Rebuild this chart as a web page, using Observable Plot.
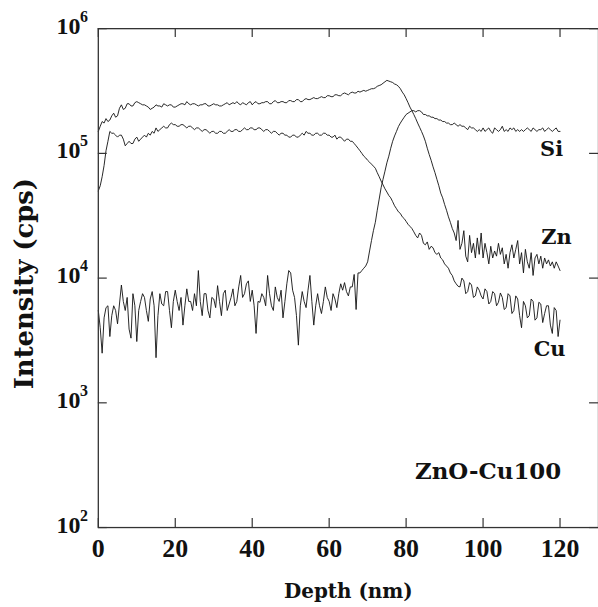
<!DOCTYPE html>
<html><head><meta charset="utf-8">
<script src="https://cdn.jsdelivr.net/npm/d3@7"></script>
<script src="https://cdn.jsdelivr.net/npm/@observablehq/plot@0.6"></script>
<style>html,body{margin:0;padding:0;overflow:hidden;background:#fff;width:598px;height:607px}</style>
</head><body><div id="chart"></div>
<script>
// Depth sampling (nm), 0.5 nm steps from 0 to 120
const depth = d3.range(0, 120.5, 0.5);

// Intensity (cps)
const zn = [
1.5e5,1.65e5,1.8e5,1.75e5,1.9e5,1.8e5,1.85e5,2.0e5,2.1e5,1.95e5,
2.0e5,2.3e5,2.45e5,2.25e5,2.3e5,2.5e5,2.5e5,2.4e5,2.4e5,2.55e5,
2.6e5,2.55e5,2.5e5,2.45e5,2.45e5,2.4e5,2.35e5,2.25e5,2.3e5,2.35e5,
2.45e5,2.4e5,2.4e5,2.35e5,2.5e5,2.45e5,2.4e5,2.45e5,2.45e5,2.35e5,
2.35e5,2.4e5,2.45e5,2.5e5,2.5e5,2.45e5,2.6e5,2.5e5,2.45e5,2.5e5,
2.5e5,2.45e5,2.4e5,2.45e5,2.45e5,2.5e5,2.5e5,2.4e5,2.4e5,2.45e5,
2.5e5,2.45e5,2.45e5,2.4e5,2.4e5,2.45e5,2.5e5,2.55e5,2.45e5,2.5e5,
2.55e5,2.5e5,2.6e5,2.5e5,2.45e5,2.55e5,2.5e5,2.45e5,2.55e5,2.6e5,
2.45e5,2.55e5,2.6e5,2.5e5,2.5e5,2.55e5,2.55e5,2.6e5,2.6e5,2.5e5,
2.5e5,2.6e5,2.65e5,2.55e5,2.55e5,2.6e5,2.6e5,2.55e5,2.55e5,2.65e5,
2.65e5,2.6e5,2.6e5,2.7e5,2.7e5,2.6e5,2.6e5,2.7e5,2.75e5,2.7e5,
2.7e5,2.75e5,2.8e5,2.75e5,2.75e5,2.8e5,2.85e5,2.8e5,2.8e5,2.9e5,
2.9e5,2.85e5,2.85e5,2.95e5,2.95e5,2.9e5,2.9e5,3.0e5,3.05e5,3.0e5,
2.95e5,3.05e5,3.1e5,3.05e5,3.05e5,3.15e5,3.1e5,3.15e5,3.2e5,3.15e5,
3.2e5,3.25e5,3.3e5,3.3e5,3.35e5,3.45e5,3.5e5,3.55e5,3.65e5,3.75e5,
3.85e5,3.8e5,3.75e5,3.7e5,3.6e5,3.55e5,3.45e5,3.3e5,3.1e5,2.95e5,
2.75e5,2.55e5,2.35e5,2.2e5,2.05e5,1.9e5,1.75e5,1.62e5,1.5e5,1.38e5,
1.25e5,1.1e5,9.8e4,8.8e4,7.8e4,7.0e4,6.2e4,5.5e4,4.8e4,4.4e4,
3.9e4,3.5e4,3.1e4,2.8e4,2.5e4,2.3e4,2.0e4,2.9e4,1.7e4,1.9e4,
2.4e4,1.5e4,1.35e4,2.2e4,1.6e4,1.9e4,1.45e4,2.1e4,1.55e4,2.3e4,
1.45e4,1.9e4,1.6e4,1.3e4,1.8e4,1.45e4,1.65e4,1.5e4,1.9e4,1.55e4,
1.75e4,1.3e4,1.55e4,1.2e4,1.6e4,1.85e4,1.45e4,1.7e4,2.0e4,1.3e4,
1.6e4,1.1e4,1.7e4,1.35e4,1.2e4,1.6e4,1.05e4,1.45e4,1.55e4,1.3e4,
1.5e4,1.2e4,1.45e4,1.3e4,1.4e4,1.25e4,1.35e4,1.2e4,1.35e4,1.25e4,
1.15e4];

const cu = [
5.0e4,5.5e4,6.5e4,8.0e4,1.05e5,1.25e5,1.5e5,1.45e5,1.45e5,1.4e5,
1.35e5,1.4e5,1.4e5,1.3e5,1.15e5,1.2e5,1.25e5,1.2e5,1.2e5,1.3e5,
1.35e5,1.25e5,1.3e5,1.35e5,1.4e5,1.35e5,1.45e5,1.4e5,1.5e5,1.45e5,
1.6e5,1.5e5,1.55e5,1.6e5,1.65e5,1.6e5,1.6e5,1.7e5,1.75e5,1.7e5,
1.7e5,1.65e5,1.65e5,1.7e5,1.7e5,1.65e5,1.6e5,1.65e5,1.65e5,1.6e5,
1.55e5,1.6e5,1.6e5,1.55e5,1.5e5,1.55e5,1.55e5,1.5e5,1.45e5,1.5e5,
1.5e5,1.45e5,1.45e5,1.5e5,1.5e5,1.45e5,1.45e5,1.5e5,1.55e5,1.5e5,
1.5e5,1.55e5,1.55e5,1.5e5,1.5e5,1.55e5,1.6e5,1.55e5,1.55e5,1.6e5,
1.6e5,1.55e5,1.55e5,1.6e5,1.6e5,1.55e5,1.5e5,1.55e5,1.55e5,1.5e5,
1.45e5,1.5e5,1.5e5,1.45e5,1.4e5,1.45e5,1.45e5,1.4e5,1.4e5,1.35e5,
1.35e5,1.4e5,1.4e5,1.35e5,1.35e5,1.4e5,1.45e5,1.4e5,1.5e5,1.45e5,
1.45e5,1.4e5,1.4e5,1.45e5,1.45e5,1.4e5,1.4e5,1.45e5,1.45e5,1.4e5,
1.4e5,1.35e5,1.35e5,1.4e5,1.3e5,1.35e5,1.35e5,1.3e5,1.25e5,1.3e5,
1.3e5,1.25e5,1.25e5,1.2e5,1.15e5,1.1e5,1.05e5,1.0e5,9.5e4,9.2e4,
8.8e4,8.5e4,8.2e4,7.9e4,7.6e4,7.0e4,6.5e4,6.0e4,5.6e4,5.2e4,
4.9e4,4.6e4,4.4e4,4.1e4,3.8e4,3.6e4,3.4e4,3.3e4,3.1e4,3.0e4,
2.85e4,2.7e4,2.6e4,2.5e4,2.35e4,2.2e4,2.1e4,2.3e4,2.2e4,1.9e4,
1.85e4,1.95e4,1.7e4,1.8e4,1.75e4,1.6e4,1.55e4,1.6e4,1.45e4,1.4e4,
1.3e4,1.25e4,1.2e4,1.1e4,1.05e4,9.5e3,9.0e3,8.6e3,8.5e3,1.0e4,
9.5e3,7.5e3,7.8e3,9.2e3,8.8e3,7.0e3,7.2e3,8.5e3,8.0e3,7.2e3,
6.8e3,8.2e3,7.8e3,6.2e3,6.5e3,7.8e3,7.5e3,6.0e3,6.4e3,7.6e3,
7.0e3,5.6e3,5.8e3,7.5e3,7.2e3,5.2e3,5.5e3,7.2e3,6.8e3,5.0e3,
4.0e3,6.5e3,6.0e3,4.8e3,5.0e3,6.8e3,6.5e3,4.6e3,4.8e3,6.4e3,
6.2e3,4.4e3,5.2e3,6.0e3,6.0e3,4.2e3,3.6e3,5.8e3,5.5e3,3.4e3,
4.6e3];

const si = [
5.5e3,4.0e3,2.5e3,4.8e3,5.8e3,6.0e3,3.4e3,5.0e3,6.0e3,5.5e3,
4.3e3,6.2e3,8.8e3,6.5e3,5.5e3,7.0e3,3.9e3,3.3e3,7.5e3,6.0e3,
3.1e3,5.5e3,6.5e3,7.5e3,7.0e3,5.5e3,4.5e3,6.8e3,7.8e3,6.0e3,
2.3e3,5.0e3,7.5e3,6.2e3,6.0e3,7.8e3,7.8e3,5.5e3,4.0e3,6.5e3,
8.0e3,6.5e3,5.5e3,7.0e3,4.2e3,6.0e3,8.2e3,6.5e3,6.5e3,5.5e3,
7.5e3,6.0e3,1.15e4,6.5e3,5.0e3,7.5e3,7.5e3,5.5e3,4.8e3,7.0e3,
6.8e3,5.8e3,8.7e3,6.5e3,5.0e3,7.5e3,8.0e3,5.5e3,6.2e3,7.0e3,
8.2e3,6.0e3,6.5e3,8.5e3,1.05e4,7.0e3,7.5e3,9.0e3,9.5e3,6.5e3,
8.0e3,6.0e3,3.6e3,6.5e3,6.4e3,7.5e3,7.0e3,6.0e3,1.05e4,7.5e3,
6.0e3,5.5e3,8.5e3,7.0e3,6.5e3,8.0e3,4.8e3,6.5e3,9.0e3,1.15e4,
1.1e4,8.0e3,7.0e3,5.0e3,2.9e3,6.0e3,7.8e3,6.5e3,5.8e3,8.0e3,
1.05e4,6.5e3,4.2e3,6.0e3,7.5e3,6.0e3,5.2e3,6.5e3,8.5e3,7.0e3,
6.5e3,5.5e3,7.5e3,6.8e3,5.8e3,7.5e3,9.0e3,8.0e3,9.2e3,7.8e3,
7.2e3,8.5e3,8.5e3,1.07e4,5.6e3,1.1e4,1.1e4,1.15e4,1.2e4,1.25e4,
1.35e4,1.65e4,2.0e4,2.4e4,2.8e4,3.5e4,4.3e4,5.3e4,6.2e4,7.2e4,
8.4e4,9.5e4,1.1e5,1.25e5,1.38e5,1.5e5,1.64e5,1.75e5,1.85e5,1.95e5,
2.05e5,2.1e5,2.15e5,2.2e5,2.2e5,2.15e5,2.2e5,2.2e5,2.15e5,2.05e5,
2.05e5,2.0e5,2.0e5,1.95e5,1.95e5,1.9e5,1.9e5,1.85e5,1.85e5,1.8e5,
1.8e5,1.75e5,1.75e5,1.7e5,1.7e5,1.75e5,1.7e5,1.65e5,1.7e5,1.65e5,
1.65e5,1.6e5,1.55e5,1.65e5,1.6e5,1.6e5,1.55e5,1.5e5,1.55e5,1.5e5,
1.6e5,1.5e5,1.55e5,1.6e5,1.5e5,1.45e5,1.6e5,1.55e5,1.5e5,1.55e5,
1.65e5,1.5e5,1.55e5,1.5e5,1.6e5,1.55e5,1.6e5,1.5e5,1.55e5,1.5e5,
1.55e5,1.5e5,1.55e5,1.6e5,1.55e5,1.5e5,1.6e5,1.55e5,1.5e5,1.55e5,
1.55e5,1.6e5,1.5e5,1.55e5,1.6e5,1.55e5,1.5e5,1.55e5,1.6e5,1.5e5,
1.5e5];

const xTicks = [0, 20, 40, 60, 80, 100, 120];
const yTicks = [1e2, 1e3, 1e4, 1e5, 1e6];
const yExponents = ["2", "3", "4", "5", "6"];

const labels = [
  {text: "Si", x: 117.8, y: 1.07e5},
  {text: "Zn", x: 119.1, y: 2.14e4},
  {text: "Cu", x: 117.3, y: 2.67e3}
];
const sampleLabel = [{text: "ZnO-Cu100", x: 101.3, y: 281}];

const rows = [
  ...depth.map((d, i) => ({depth: d, value: zn[i], el: "Zn"})),
  ...depth.map((d, i) => ({depth: d, value: cu[i], el: "Cu"})),
  ...depth.map((d, i) => ({depth: d, value: si[i], el: "Si"}))
];

const W = 601, H = 607, mL = 98.3, mR = 0, mT = 28.3, mB = 77.3;
const innerW = W - mL - mR, innerH = H - mT - mB, tk = 9;
const serifNum = "'Liberation Serif', 'Times New Roman', serif";
const serifTxt = "'DejaVu Serif', serif";

const chart = Plot.plot({
  width: W, height: H,
  marginLeft: mL, marginRight: mR, marginTop: mT, marginBottom: mB,
  style: {background: "white", overflow: "visible"},
  x: {domain: [0, 130], axis: null},
  y: {type: "log", domain: [1e2, 1e6], axis: null},
  marks: [
    Plot.line(rows, {x: "depth", y: "value", z: "el", stroke: "#111", strokeWidth: 0.9}),
    Plot.frame({stroke: "#333", strokeWidth: 1.3}),
    Plot.tickX(xTicks, {x: d => d, insetTop: innerH - tk, stroke: "#333", strokeWidth: 1.2}),
    Plot.tickX(xTicks, {x: d => d, insetBottom: innerH - tk, stroke: "#333", strokeWidth: 1.2}),
    Plot.tickY(yTicks, {y: d => d, insetRight: innerW - tk, stroke: "#333", strokeWidth: 1.2}),
    Plot.tickY(yTicks, {y: d => d, insetLeft: innerW - tk, stroke: "#333", strokeWidth: 1.2}),
    // x tick labels
    Plot.text(xTicks, {x: d => d, text: d => String(d), frameAnchor: "bottom", lineAnchor: "bottom",
      dy: 29.6, fontFamily: serifNum, fontWeight: "bold", fontSize: 26, fill: "#111"}),
    // y tick labels: 10 with exponent
    Plot.text(yTicks, {y: d => d, text: () => "10", frameAnchor: "left", textAnchor: "end", lineAnchor: "bottom",
      dx: -18, dy: 5, fontFamily: serifNum, fontWeight: "bold", fontSize: 24, fill: "#111"}),
    Plot.text(yTicks, {y: d => d, text: (d, i) => yExponents[i], frameAnchor: "left", textAnchor: "start", lineAnchor: "bottom",
      dx: -18.5, dy: -7, fontFamily: serifNum, fontWeight: "bold", fontSize: 16, fill: "#111"}),
    // axis titles
    Plot.text(["Depth (nm)"], {text: d => d, frameAnchor: "bottom", lineAnchor: "bottom", dy: 70.3,
      fontFamily: serifTxt, fontWeight: "bold", fontSize: 20, fill: "#111"}),
    Plot.text(["Intensity (cps)"], {text: d => d, frameAnchor: "left", textAnchor: "middle", rotate: -90, lineAnchor: "bottom",
      dx: -65.3, dy: 5.5, fontFamily: serifTxt, fontWeight: "bold", fontSize: 26, fill: "#111"}),
    // series labels
    Plot.text(labels, {x: "x", y: "y", text: "text", fontFamily: serifTxt, fontWeight: "bold", fontSize: 21, fill: "#111"}),
    Plot.text(sampleLabel, {x: "x", y: "y", text: "text", fontFamily: serifTxt, fontWeight: "bold", fontSize: 23, fill: "#111"})
  ]
});
document.getElementById("chart").appendChild(chart);
</script>
</body></html>
